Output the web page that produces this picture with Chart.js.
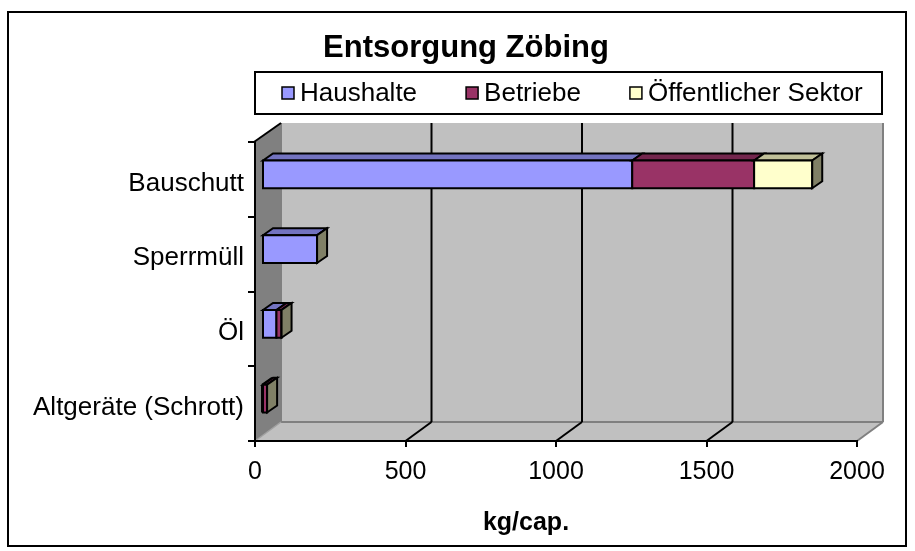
<!DOCTYPE html>
<html>
<head>
<meta charset="utf-8">
<script src="https://cdn.jsdelivr.net/npm/chart.js@4.4.1/dist/chart.umd.min.js"></script>
<style>
  html, body { margin: 0; padding: 0; background: #ffffff; }
  #c { display: block; }
</style>
</head>
<body>
<canvas id="c" width="915" height="551"></canvas>
<script>
// ---- data ----
const categories = ['Bauschutt', 'Sperrmüll', 'Öl', 'Altgeräte (Schrott)'];
const seriesNames = ['Haushalte', 'Betriebe', 'Öffentlicher Sektor'];
const haushalte = [1230, 183, 48, 0];
const betriebe = [405, 0, 17, 17];
const oeffentlich = [193, 0, 0, 0];
const xMin = 0, xMax = 2000, xStep = 500;
const chartTitle = 'Entsorgung Zöbing';
const xAxisTitle = 'kg/cap.';

// ---- style ----
const FONT = '"Liberation Sans", Arial, sans-serif';
const frontColors = ['#9999FF', '#993366', '#FFFFCC'];
const topColors = ['#7373C0', '#73264D', '#C0C099'];
const sideColor = '#808066';
const DX = 26, DY = -19;          // depth of the 3D box
const BSX = 7, BSY = -5;          // bar front offset inside depth
const BDX = 10, BDY = -7;         // bar depth

function poly(ctx, pts, fill, stroke, lw) {
  ctx.beginPath();
  ctx.moveTo(pts[0][0], pts[0][1]);
  for (let i = 1; i < pts.length; i++) ctx.lineTo(pts[i][0], pts[i][1]);
  ctx.closePath();
  if (fill) { ctx.fillStyle = fill; ctx.fill(); }
  if (stroke) { ctx.strokeStyle = stroke; ctx.lineWidth = lw || 1; ctx.stroke(); }
}
function line(ctx, x1, y1, x2, y2, color, lw) {
  ctx.beginPath();
  ctx.moveTo(x1, y1); ctx.lineTo(x2, y2);
  ctx.strokeStyle = color; ctx.lineWidth = lw; ctx.stroke();
}

const threeD = {
  id: 'threeD',
  beforeDraw(chart) {
    const { ctx, chartArea: a, scales: { x } } = chart;
    ctx.save();
    ctx.fillStyle = '#ffffff';
    ctx.fillRect(0, 0, chart.width, chart.height);
    // back wall
    ctx.fillStyle = '#C0C0C0';
    ctx.fillRect(a.left + DX, a.top + DY, a.right - a.left, a.bottom - a.top);
    // floor
    poly(ctx, [[a.left, a.bottom], [a.left + DX, a.bottom + DY], [a.right + DX, a.bottom + DY], [a.right, a.bottom]], '#C0C0C0');
    // left wall
    poly(ctx, [[a.left, a.top], [a.left + DX, a.top + DY], [a.left + DX, a.bottom + DY], [a.left, a.bottom]], '#808080');
    // gray edges
    line(ctx, a.left + DX, a.top + DY, a.left + DX, a.bottom + DY, '#808080', 2);
    line(ctx, a.left + DX, a.bottom + DY, a.right + DX, a.bottom + DY, '#808080', 2);
    line(ctx, a.right + DX, a.top + DY, a.right + DX, a.bottom + DY, '#808080', 2);
    line(ctx, a.right, a.bottom, a.right + DX, a.bottom + DY, '#808080', 2);
    line(ctx, a.left, a.bottom, a.left + DX, a.bottom + DY, '#A0A0A0', 1.5);
    // gridlines on back wall and floor
    x.ticks.forEach(t => {
      if (t.value > x.min && t.value < x.max) {
        const px = x.getPixelForValue(t.value);
        line(ctx, px + DX, a.top + DY, px + DX, a.bottom + DY, '#000000', 2);
        line(ctx, px, a.bottom, px + DX, a.bottom + DY, '#000000', 2);
      }
    });
    // top diagonal of left wall
    line(ctx, a.left - 1, a.top, a.left + DX, a.top + DY, '#000000', 2);
    ctx.restore();
  },
  beforeDatasetsDraw(chart) {
    const { ctx } = chart;
    ctx.save();
    ctx.lineJoin = 'miter';
    const n = chart.data.labels.length;
    const nd = chart.data.datasets.length;
    for (let j = 0; j < n; j++) {
      let last = null;
      for (let d = 0; d < nd; d++) {
        const el = chart.getDatasetMeta(d).data[j];
        if (!el) continue;
        const x0 = Math.min(el.base, el.x) + BSX;
        const x1 = Math.max(el.base, el.x) + BSX;
        const yt = el.y - el.height / 2 + BSY;
        const yb = el.y + el.height / 2 + BSY;
        // top face
        poly(ctx, [[x0, yt], [x0 + BDX, yt + BDY], [x1 + BDX, yt + BDY], [x1, yt]], topColors[d], '#000000', 2);
        // front face
        poly(ctx, [[x0, yt], [x1, yt], [x1, yb], [x0, yb]], frontColors[d], '#000000', 2);
        last = { x1, yt, yb };
      }
      if (last) {
        const { x1, yt, yb } = last;
        poly(ctx, [[x1, yt], [x1 + BDX, yt + BDY], [x1 + BDX, yb + BDY], [x1, yb]], sideColor, '#000000', 2);
      }
    }
    ctx.restore();
    return false;
  },
  afterDraw(chart) {
    const { ctx } = chart;
    ctx.save();
    // outer border
    ctx.strokeStyle = '#000000';
    ctx.lineWidth = 2;
    ctx.strokeRect(8, 12, 898, 534);
    // title
    ctx.fillStyle = '#000000';
    ctx.font = 'bold 31px ' + FONT;
    ctx.textAlign = 'center';
    ctx.textBaseline = 'alphabetic';
    ctx.fillText(chartTitle, 466, 57);
    // legend
    ctx.lineWidth = 2;
    ctx.strokeRect(255, 72, 627, 42);
    ctx.font = '26px ' + FONT;
    ctx.textAlign = 'left';
    ctx.textBaseline = 'middle';
    let lx = 282;
    chart.data.datasets.forEach((ds, i) => {
      ctx.fillStyle = frontColors[i];
      ctx.fillRect(lx, 87, 12, 12);
      ctx.lineWidth = 1.5;
      ctx.strokeStyle = '#000000';
      ctx.strokeRect(lx, 87, 12, 12);
      ctx.fillStyle = '#000000';
      ctx.fillText(ds.label, lx + 18, 94);
      lx += 18 + ctx.measureText(ds.label).width + 49;
    });
    // x axis title
    ctx.font = 'bold 25px ' + FONT;
    ctx.textAlign = 'center';
    ctx.textBaseline = 'middle';
    ctx.fillText(xAxisTitle, 526, 523);
    ctx.restore();
  }
};

const seriesValues = [haushalte, betriebe, oeffentlich];
new Chart(document.getElementById('c'), {
  type: 'bar',
  data: {
    labels: categories,
    datasets: seriesNames.map((name, i) => ({
      label: name,
      data: seriesValues[i],
      backgroundColor: frontColors[i],
      borderColor: '#000000',
      borderWidth: 2,
      barPercentage: 0.37,
      categoryPercentage: 1.0
    }))
  },
  options: {
    indexAxis: 'y',
    responsive: false,
    animation: false,
    events: [],
    layout: { padding: { top: 142, right: 58, bottom: 0, left: 0 } },
    plugins: {
      legend: { display: false },
      title: { display: false },
      tooltip: { enabled: false }
    },
    scales: {
      x: {
        stacked: true,
        min: xMin,
        max: xMax,
        afterFit(scale) { scale.height = 110; },
        ticks: {
          stepSize: xStep,
          color: '#000000',
          font: { size: 25, family: FONT },
          padding: 10,
          maxRotation: 0,
          callback: (v) => String(v)
        },
        grid: {
          display: true,
          drawOnChartArea: false,
          drawTicks: true,
          tickLength: 6,
          color: '#000000',
          lineWidth: 2
        },
        border: { display: true, color: '#000000', width: 2 }
      },
      y: {
        stacked: true,
        afterFit(scale) { scale.width = 255; },
        ticks: {
          color: '#000000',
          font: { size: 26, family: FONT },
          padding: 4,
          labelOffset: 4
        },
        grid: {
          display: true,
          offset: true,
          drawOnChartArea: false,
          drawTicks: true,
          tickLength: 7,
          color: '#000000',
          lineWidth: 2
        },
        border: { display: true, color: '#000000', width: 2 }
      }
    }
  },
  plugins: [threeD]
});
</script>
</body>
</html>
